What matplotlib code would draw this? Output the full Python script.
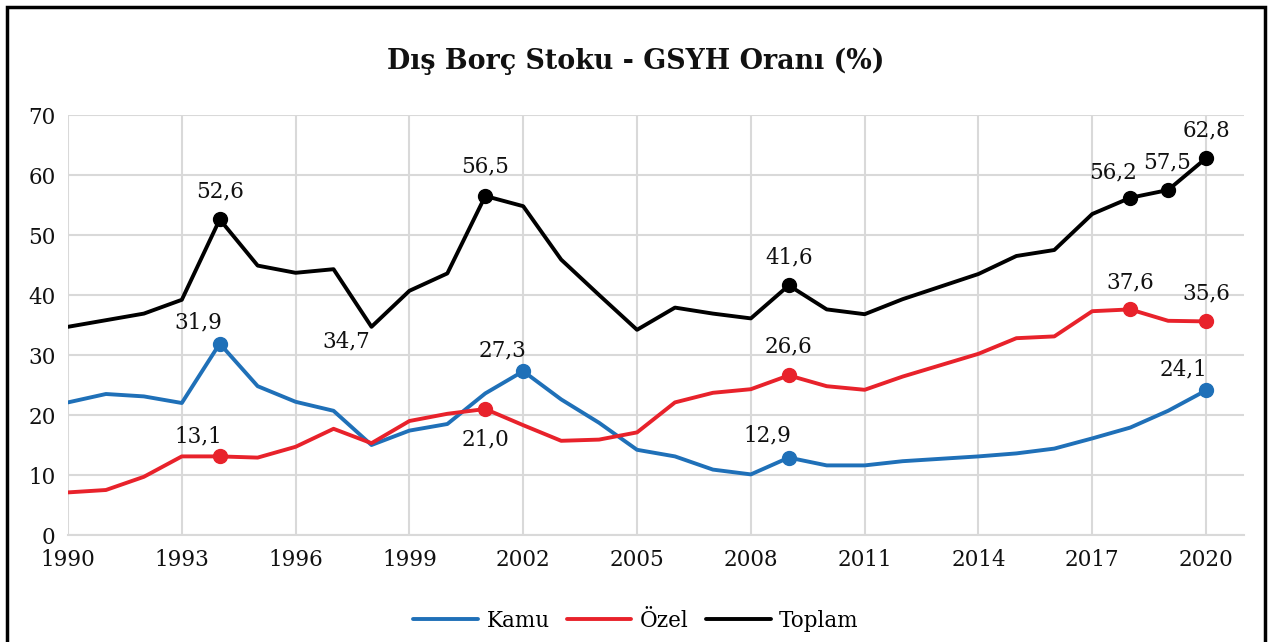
import matplotlib
matplotlib.use("Agg")
import matplotlib.pyplot as plt
from matplotlib.patches import Rectangle

years = list(range(1990, 2021))
kamu = [22.1, 23.5, 23.1, 22.0, 31.9, 24.8, 22.2, 20.7, 15.0, 17.4, 18.5, 23.6, 27.3,
        22.6, 18.7, 14.2, 13.1, 10.9, 10.1, 12.9, 11.6, 11.6, 12.3, 12.7, 13.1, 13.6,
        14.4, 16.1, 17.9, 20.7, 24.1]
ozel = [7.1, 7.5, 9.7, 13.1, 13.1, 12.9, 14.7, 17.7, 15.3, 19.0, 20.2, 21.0, 18.3,
        15.7, 15.9, 17.1, 22.1, 23.7, 24.3, 26.6, 24.8, 24.2, 26.4, 28.3, 30.2, 32.8,
        33.1, 37.3, 37.6, 35.7, 35.6]
toplam = [34.7, 35.8, 36.9, 39.2, 52.6, 44.9, 43.7, 44.3, 34.7, 40.7, 43.6, 56.5, 54.8,
          45.9, 40.0, 34.2, 37.9, 36.9, 36.1, 41.6, 37.6, 36.8, 39.3, 41.4, 43.5, 46.5,
          47.5, 53.5, 56.2, 57.5, 62.8]

series_names = ["Kamu", "Özel", "Toplam"]
colors = ["#1F70B8", "#E8222B", "#000000"]

# labelled points: (year, marker?, dx_px, dy_px)
kamu_labels = [(1994, True, -21, 21), (2002, True, -21, 21), (2009, True, -21, 22), (2020, True, -23, 21)]
ozel_labels = [(1994, True, -21, 20), (2001, True, 0, -30), (2009, True, 0, 29), (2018, True, 0, 27), (2020, True, 0, 28)]
toplam_labels = [(1994, True, 0, 28), (1998, False, -25, -15), (2001, True, 0, 30), (2009, True, 0, 28),
                 (2018, True, -17, 25), (2019, True, -1, 28), (2020, True, 0, 28)]

FONT = "DejaVu Serif"
plt.rcParams['font.family'] = [FONT, 'DejaVu Sans']
FS = 15.5

fig = plt.figure(figsize=(12.72, 6.42), dpi=100)
ax = fig.add_axes([68/1272, 1-535/642, (1244-68)/1272, (535-115)/642])

for name, vals, col, labs in zip(series_names, [kamu, ozel, toplam], colors,
                                 [kamu_labels, ozel_labels, toplam_labels]):
    ax.plot(years, vals, color=col, lw=2.8, label=name, solid_capstyle='round', zorder=3)
    for yr, mk, dx, dy in labs:
        v = vals[years.index(yr)]
        if mk:
            ax.plot([yr], [v], 'o', color=col, ms=10, zorder=4)
        ax.annotate(f"{v:.1f}".replace('.', ','), (yr, v), xytext=(dx, dy),
                    textcoords='offset pixels', ha='center', va='center',
                    fontsize=FS, color='#111111', zorder=5)

ax.set_xlim(1990, 2021)
ax.set_ylim(0, 70)
ax.set_xticks(list(range(1990, 2021, 3)))
ax.set_yticks(list(range(0, 71, 10)))
ax.grid(True, color='#D9D9D9', lw=1.5, zorder=0)
ax.tick_params(length=0, labelsize=FS, colors='#111111')
ax.tick_params(axis='x', pad=10)
ax.tick_params(axis='y', pad=9)
for lbl in ax.get_yticklabels():
    lbl.set_va('center_baseline')
for s in ['top', 'right', 'left']:
    ax.spines[s].set_visible(False)
ax.spines['bottom'].set_color('#D9D9D9')
ax.spines['bottom'].set_linewidth(1.5)

fig.text(0.5, 1-61/642, "Dış Borç Stoku - GSYH Oranı (%)", ha='center', va='center',
         fontsize=19.4, fontweight='bold', color='#111111')

leg = fig.legend(loc='center', bbox_to_anchor=(0.5, 1-621/642), ncol=3, frameon=False,
                 fontsize=FS, handlelength=3.0, columnspacing=0.8, handletextpad=0.4)

fig.patches.append(Rectangle((6.5/1272, -0.1), (1265-6.5)/1272, 1.1 - 6.5/642,
                             transform=fig.transFigure, fill=False, edgecolor='black', lw=2.5))

fig.savefig("out.png", dpi=100)
